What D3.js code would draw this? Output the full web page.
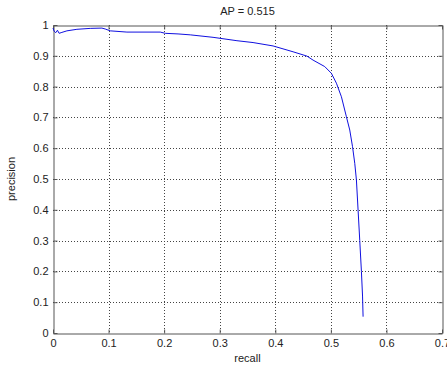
<!DOCTYPE html>
<html><head><meta charset="utf-8">
<script src="https://cdn.jsdelivr.net/npm/d3@7"></script>
<style>body{margin:0;background:#fff}text{font-family:"Liberation Sans",Arial,sans-serif;fill:#222}</style>
</head><body><svg id="c" width="447" height="370"></svg>
<script>
const recall = [0,0.002,0.005,0.008,0.011,0.016,0.025,0.043,0.067,0.088,0.094,0.103,0.133,0.193,0.202,0.225,0.247,0.288,0.331,0.36,0.396,0.432,0.457,0.468,0.489,0.501,0.51,0.519,0.528,0.534,0.539,0.543,0.546,0.549,0.552,0.555,0.557,0.558];
const precision = [0.99,0.98,0.975,0.983,0.973,0.976,0.981,0.986,0.989,0.99,0.987,0.981,0.977,0.977,0.973,0.971,0.968,0.96,0.949,0.943,0.932,0.913,0.899,0.886,0.865,0.843,0.811,0.767,0.702,0.659,0.605,0.551,0.497,0.399,0.3,0.2,0.12,0.053];
const xTicks = [0,0.1,0.2,0.3,0.4,0.5,0.6,0.7];
const yTicks = [0,0.1,0.2,0.3,0.4,0.5,0.6,0.7,0.8,0.9,1];
const title = "AP = 0.515", xLabel = "recall", yLabel = "precision";

const L=53,R=442,T=25,B=333;
const svg=d3.select("#c");
const x=d3.scaleLinear().domain([0,0.7]).range([L,R]);
const y=d3.scaleLinear().domain([0,1]).range([B,T]);
const gridC="#444";
// grid
svg.append("g").selectAll("line").data(xTicks.slice(1,-1)).join("line")
 .attr("x1",d=>Math.round(x(d))+0.5).attr("x2",d=>Math.round(x(d))+0.5).attr("y1",T).attr("y2",B)
 .attr("stroke",gridC).attr("stroke-width",1).attr("stroke-dasharray","1,2");
svg.append("g").selectAll("line").data(yTicks.slice(1,-1)).join("line")
 .attr("y1",d=>Math.round(y(d))+0.5).attr("y2",d=>Math.round(y(d))+0.5).attr("x1",L).attr("x2",R)
 .attr("stroke",gridC).attr("stroke-width",1).attr("stroke-dasharray","1,2");
// axes
const ax=svg.append("g").attr("transform",`translate(0,${B+0.5})`).call(d3.axisBottom(x).tickValues(xTicks).tickFormat(d3.format("")).tickSizeInner(-4).tickSizeOuter(0).tickPadding(8));
const ay=svg.append("g").attr("transform",`translate(${L+0.5},0)`).call(d3.axisLeft(y).tickValues(yTicks).tickFormat(d3.format("")).tickSizeInner(-4).tickSizeOuter(0).tickPadding(8));
const at=svg.append("g").attr("transform",`translate(0,${T+0.5})`).call(d3.axisTop(x).tickValues(xTicks).tickFormat("").tickSizeInner(-4).tickSizeOuter(0));
const ar=svg.append("g").attr("transform",`translate(${R+0.5},0)`).call(d3.axisRight(y).tickValues(yTicks).tickFormat("").tickSizeInner(-4).tickSizeOuter(0));
[ax,ay,at,ar].forEach(g=>{g.selectAll("path,line").attr("stroke","#555");g.selectAll("text").attr("font-size",11).attr("fill","#222").attr("font-family","Liberation Sans, Arial, sans-serif");});
ay.selectAll("text").attr("x",-5);
ax.selectAll("text").attr("dy","0.9em").attr("y",4);
// curve
svg.append("path").datum(recall.map((r,i)=>[r,precision[i]]))
 .attr("d",d3.line().x(d=>x(d[0])).y(d=>y(d[1])))
 .attr("fill","none").attr("stroke","#1010e0").attr("stroke-width",1);
svg.append("text").attr("x",(L+R)/2).attr("y",15).attr("text-anchor","middle").attr("font-size",11).text(title);
svg.append("text").attr("x",(L+R)/2).attr("y",362).attr("text-anchor","middle").attr("font-size",11).text(xLabel);
svg.append("text").attr("transform",`translate(15,${(T+B)/2}) rotate(-90)`).attr("text-anchor","middle").attr("font-size",11).text(yLabel);
</script></body></html>
